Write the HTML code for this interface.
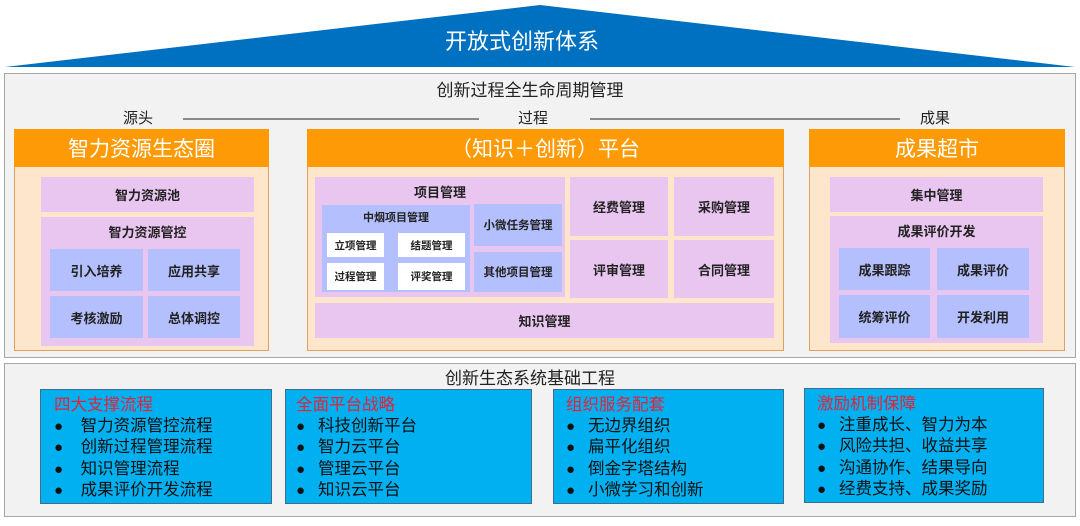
<!DOCTYPE html>
<html><head><meta charset="utf-8"><style>
*{margin:0;padding:0;box-sizing:border-box}
body{width:1080px;height:526px;background:#fff;position:relative;overflow:hidden;font-family:"Liberation Sans","Noto Sans CJK SC",sans-serif;color:#222}
.a{position:absolute;display:flex;align-items:center;justify-content:center;text-align:center}
.panel{position:absolute;background:#f2f2f2;border:1.5px solid #a6a6a6}
.hd{background:#fd9a06;color:#fff;font-size:21px}
.body{background:#fde6cc;border:1px solid #e0a060}
.pk{background:#e9c6f0;font-weight:bold;font-size:13px}
.bl{background:#b4bffd;font-weight:bold;font-size:13px}
.wh{background:#fff;font-weight:bold;font-size:10.5px}
.lbl{font-size:15px;color:#222}
.cy{position:absolute;background:#00b0f0;border:1.5px solid #3d6e8a;padding:5px 0 0 13px;font-size:16.5px;line-height:20.5px;color:#111}
.cy .t{color:#e2233a}
.cy .b{display:block}
.cy .b:before{content:"●";display:inline-block;width:22px;font-size:15px}
</style></head><body>
<svg style="position:absolute;left:0;top:0" width="1080" height="72"><polygon points="5,67 540,5 1075,67" fill="#0070c0"/></svg>
<div class="a" style="left:372px;top:24px;width:300px;height:32px;color:#fff;font-size:22px">开放式创新体系</div>

<div class="panel" style="left:4px;top:73px;width:1072px;height:285px"></div>
<div class="a lbl" style="left:330px;top:77px;width:400px;height:22px;font-size:17px">创新过程全生命周期管理</div>
<div class="a lbl" style="left:110px;top:107px;width:56px;height:20px">源头</div>
<div class="a lbl" style="left:505px;top:107px;width:56px;height:20px">过程</div>
<div class="a lbl" style="left:907px;top:107px;width:56px;height:20px">成果</div>
<div style="position:absolute;left:183px;top:118px;width:296px;height:2px;background:#8a8a8a"></div>
<div style="position:absolute;left:590px;top:118px;width:310px;height:2px;background:#8a8a8a"></div>

<div class="a body" style="left:14px;top:166px;width:255px;height:185px"></div>
<div class="a hd" style="left:14px;top:129px;width:255px;height:38px">智力资源生态圈</div>
<div class="a pk" style="left:41px;top:177px;width:213px;height:35px">智力资源池</div>
<div class="a pk" style="left:41px;top:217px;width:213px;height:129px;align-items:flex-start;padding-top:5px">智力资源管控</div>
<div class="a bl" style="left:50px;top:249px;width:93px;height:42px">引入培养</div>
<div class="a bl" style="left:148px;top:249px;width:92px;height:42px">应用共享</div>
<div class="a bl" style="left:50px;top:296px;width:93px;height:42px">考核激励</div>
<div class="a bl" style="left:148px;top:296px;width:92px;height:42px">总体调控</div>

<div class="a body" style="left:307px;top:166px;width:477px;height:185px"></div>
<div class="a hd" style="left:307px;top:129px;width:477px;height:38px">（知识＋创新）平台</div>
<div class="a pk" style="left:315px;top:177px;width:250px;height:120px;align-items:flex-start;padding-top:5px">项目管理</div>
<div class="a bl" style="left:322px;top:205px;width:148px;height:87px;align-items:flex-start;padding-top:4px;font-size:11px">中烟项目管理</div>
<div class="a wh" style="left:327px;top:233px;width:57px;height:24px">立项管理</div>
<div class="a wh" style="left:398px;top:233px;width:67px;height:24px">结题管理</div>
<div class="a wh" style="left:327px;top:263px;width:57px;height:27px">过程管理</div>
<div class="a wh" style="left:398px;top:263px;width:67px;height:27px">评奖管理</div>
<div class="a bl" style="left:474px;top:204px;width:88px;height:42px;font-size:11.5px">小微任务管理</div>
<div class="a bl" style="left:474px;top:252px;width:88px;height:40px;font-size:11.5px">其他项目管理</div>
<div class="a pk" style="left:570px;top:177px;width:98px;height:59px">经费管理</div>
<div class="a pk" style="left:674px;top:177px;width:100px;height:59px">采购管理</div>
<div class="a pk" style="left:570px;top:240px;width:98px;height:58px">评审管理</div>
<div class="a pk" style="left:674px;top:240px;width:100px;height:58px">合同管理</div>
<div class="a pk" style="left:315px;top:303px;width:459px;height:35px">知识管理</div>

<div class="a body" style="left:809px;top:166px;width:256px;height:185px"></div>
<div class="a hd" style="left:809px;top:129px;width:256px;height:38px">成果超市</div>
<div class="a pk" style="left:830px;top:177px;width:213px;height:35px">集中管理</div>
<div class="a pk" style="left:830px;top:216px;width:213px;height:127px;align-items:flex-start;padding-top:5px">成果评价开发</div>
<div class="a bl" style="left:839px;top:248px;width:91px;height:42px">成果跟踪</div>
<div class="a bl" style="left:937px;top:248px;width:92px;height:42px">成果评价</div>
<div class="a bl" style="left:839px;top:295px;width:91px;height:43px">统筹评价</div>
<div class="a bl" style="left:937px;top:295px;width:92px;height:43px">开发利用</div>

<div class="panel" style="left:4px;top:363px;width:1072px;height:154px"></div>
<div class="a lbl" style="left:330px;top:365px;width:400px;height:22px;font-size:17px">创新生态系统基础工程</div>
<div class="cy" style="left:40px;top:389px;width:232px;height:115px"><span class="t">四大支撑流程</span><span class="b">&nbsp;智力资源管控流程</span><span class="b">&nbsp;创新过程管理流程</span><span class="b">&nbsp;知识管理流程</span><span class="b">&nbsp;成果评价开发流程</span></div>
<div class="cy" style="left:285px;top:389px;width:247px;height:115px;padding-left:10px"><span class="t">全面平台战略</span><span class="b">科技创新平台</span><span class="b">智力云平台</span><span class="b">管理云平台</span><span class="b">知识云平台</span></div>
<div class="cy" style="left:553px;top:389px;width:231px;height:115px;padding-left:12px"><span class="t">组织服务配套</span><span class="b">无边界组织</span><span class="b">扁平化组织</span><span class="b">倒金字塔结构</span><span class="b">小微学习和创新</span></div>
<div class="cy" style="left:804px;top:388px;width:240px;height:115px;padding-left:12px"><span class="t">激励机制保障</span><span class="b">注重成长、智力为本</span><span class="b">风险共担、收益共享</span><span class="b">沟通协作、结果导向</span><span class="b">经费支持、成果奖励</span></div>
</body></html>
